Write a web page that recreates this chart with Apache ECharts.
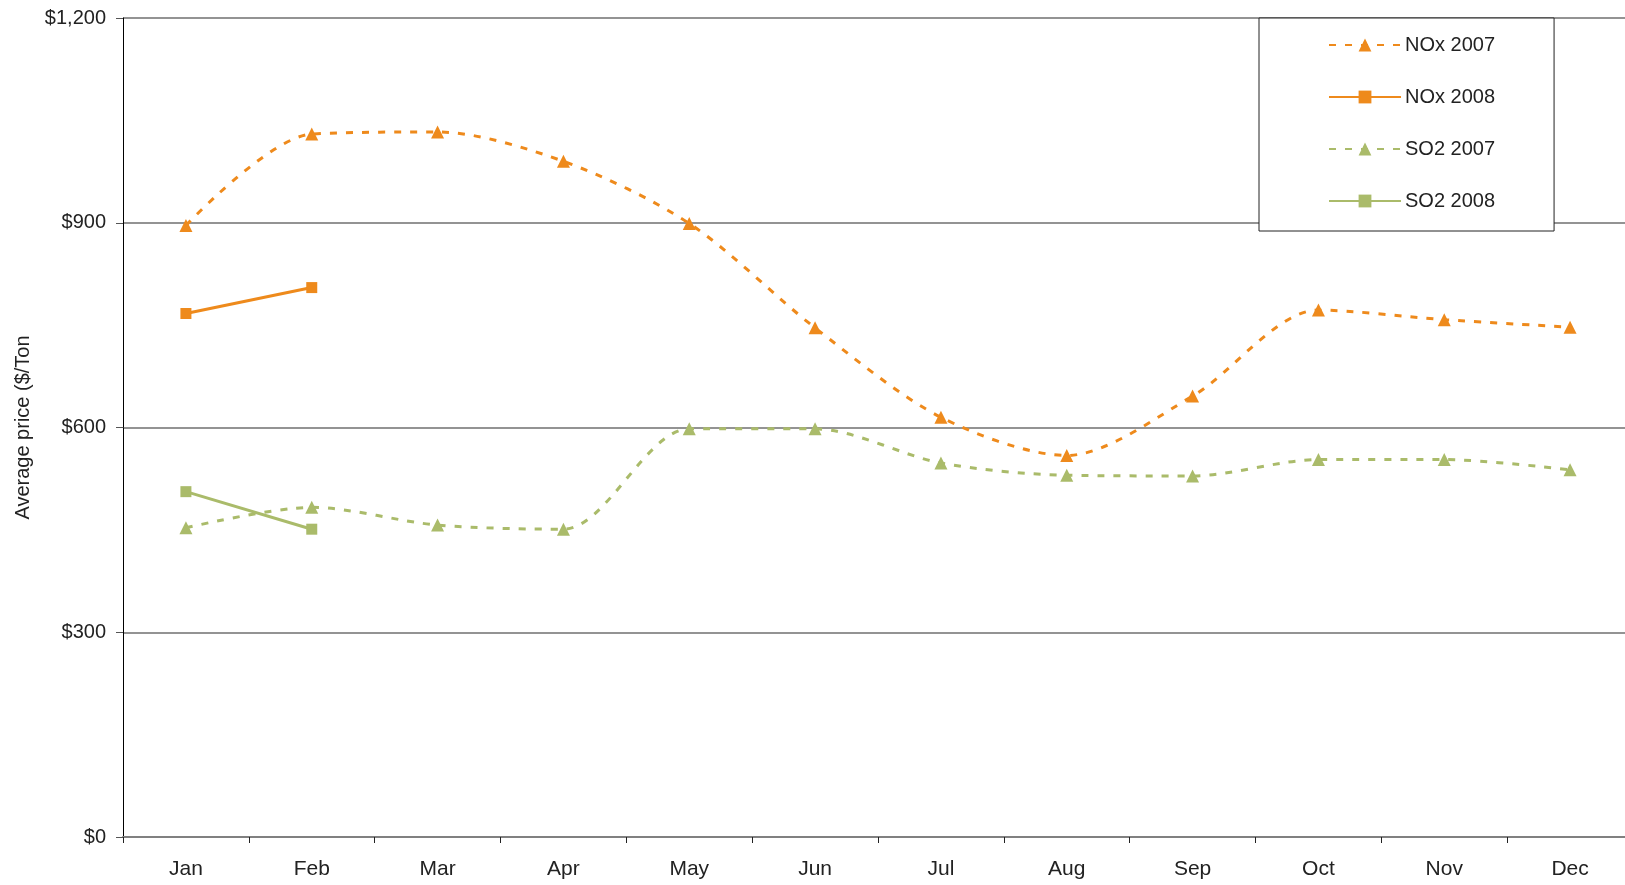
<!DOCTYPE html>
<html lang="en">
<head>
  <meta charset="UTF-8">
  <title>NOx and SO2 average price</title>
  <script src="https://cdn.jsdelivr.net/npm/echarts@6/dist/echarts.min.js"></script>
  <style>
    html, body {
      margin: 0;
      padding: 0;
      background: #fff;
    }

    #main {
      width: 1625px;
      height: 885px;
    }
  </style>
</head>
<body>
  <div id="main"></div>

  <script>
  const months = ['Jan', 'Feb', 'Mar', 'Apr', 'May', 'Jun', 'Jul', 'Aug', 'Sep', 'Oct', 'Nov', 'Dec'];
  const nox2007 = [896, 1030, 1033, 990, 899, 746, 615, 559, 646, 772, 758, 747];
  const nox2008 = [767, 805];
  const so22007 = [453, 483, 457, 451, 598, 598, 548, 530, 529, 553, 553, 538];
  const so22008 = [506, 451];

  const orange = '#ee8a1c';
  const green = '#aabb6a';
  const font = '"Liberation Sans Narrow", "Arial Narrow", "Liberation Sans", sans-serif';

  const chart = echarts.init(document.getElementById('main'));

  function series(name, data, color, dashed, symbol) {
    return {
      name: name,
      type: 'line',
      data: data,
      smooth: dashed ? 0.3 : false,
      symbol: symbol,
      symbolSize: symbol === 'triangle' ? 13 : 11,
      showAllSymbol: true,
      itemStyle: { color: color },
      lineStyle: {
        color: color,
        width: 3,
        type: dashed ? [7, 9] : 'solid'
      },
      emphasis: { disabled: true },
      animation: false
    };
  }

  chart.setOption({
    animation: false,
    textStyle: { fontFamily: font },
    grid: {
      left: 123,
      right: -8,
      top: 18,
      bottom: 48,
      containLabel: false,
      outerBoundsMode: 'none'
    },
    legend: {
      orient: 'vertical',
      left: 1259,
      top: 18,
      padding: [17, 59, 20, 69],
      itemGap: 32,
      itemWidth: 72,
      itemHeight: 16,
      borderColor: '#222',
      borderWidth: 1,
      backgroundColor: '#fff',
      textStyle: { fontFamily: font, fontSize: 20, color: '#222', padding: [0, 0, 0, -1] },
      data: ['NOx 2007', 'NOx 2008', 'SO2 2007', 'SO2 2008']
    },
    xAxis: {
      type: 'category',
      data: months,
      boundaryGap: true,
      axisLine: { lineStyle: { color: '#808080', width: 2 } },
      axisTick: { show: true, length: 6, alignWithLabel: false, lineStyle: { color: '#222', width: 1 } },
      axisLabel: { color: '#222', fontSize: 21, fontFamily: font, margin: 22 },
      splitLine: { show: false }
    },
    yAxis: {
      type: 'value',
      min: 0,
      max: 1200,
      interval: 300,
      name: 'Average price ($/Ton',
      nameLocation: 'middle',
      nameRotate: 90,
      nameGap: 90,
      nameTextStyle: { color: '#222', fontSize: 20, fontFamily: font },
      axisLine: { show: true, lineStyle: { color: '#000', width: 1 } },
      axisTick: { show: true, length: 7, lineStyle: { color: '#555' } },
      axisLabel: {
        color: '#222',
        fontSize: 20,
        fontFamily: font,
        margin: 17,
        formatter: v => '$' + v.toLocaleString('en-US')
      },
      splitLine: { show: true, lineStyle: { color: '#6f6f6f', width: 1.5 } }
    },
    series: [
      series('NOx 2007', nox2007, orange, true, 'triangle'),
      series('NOx 2008', nox2008, orange, false, 'rect'),
      series('SO2 2007', so22007, green, true, 'triangle'),
      series('SO2 2008', so22008, green, false, 'rect')
    ]
  });
  </script>
</body>
</html>
